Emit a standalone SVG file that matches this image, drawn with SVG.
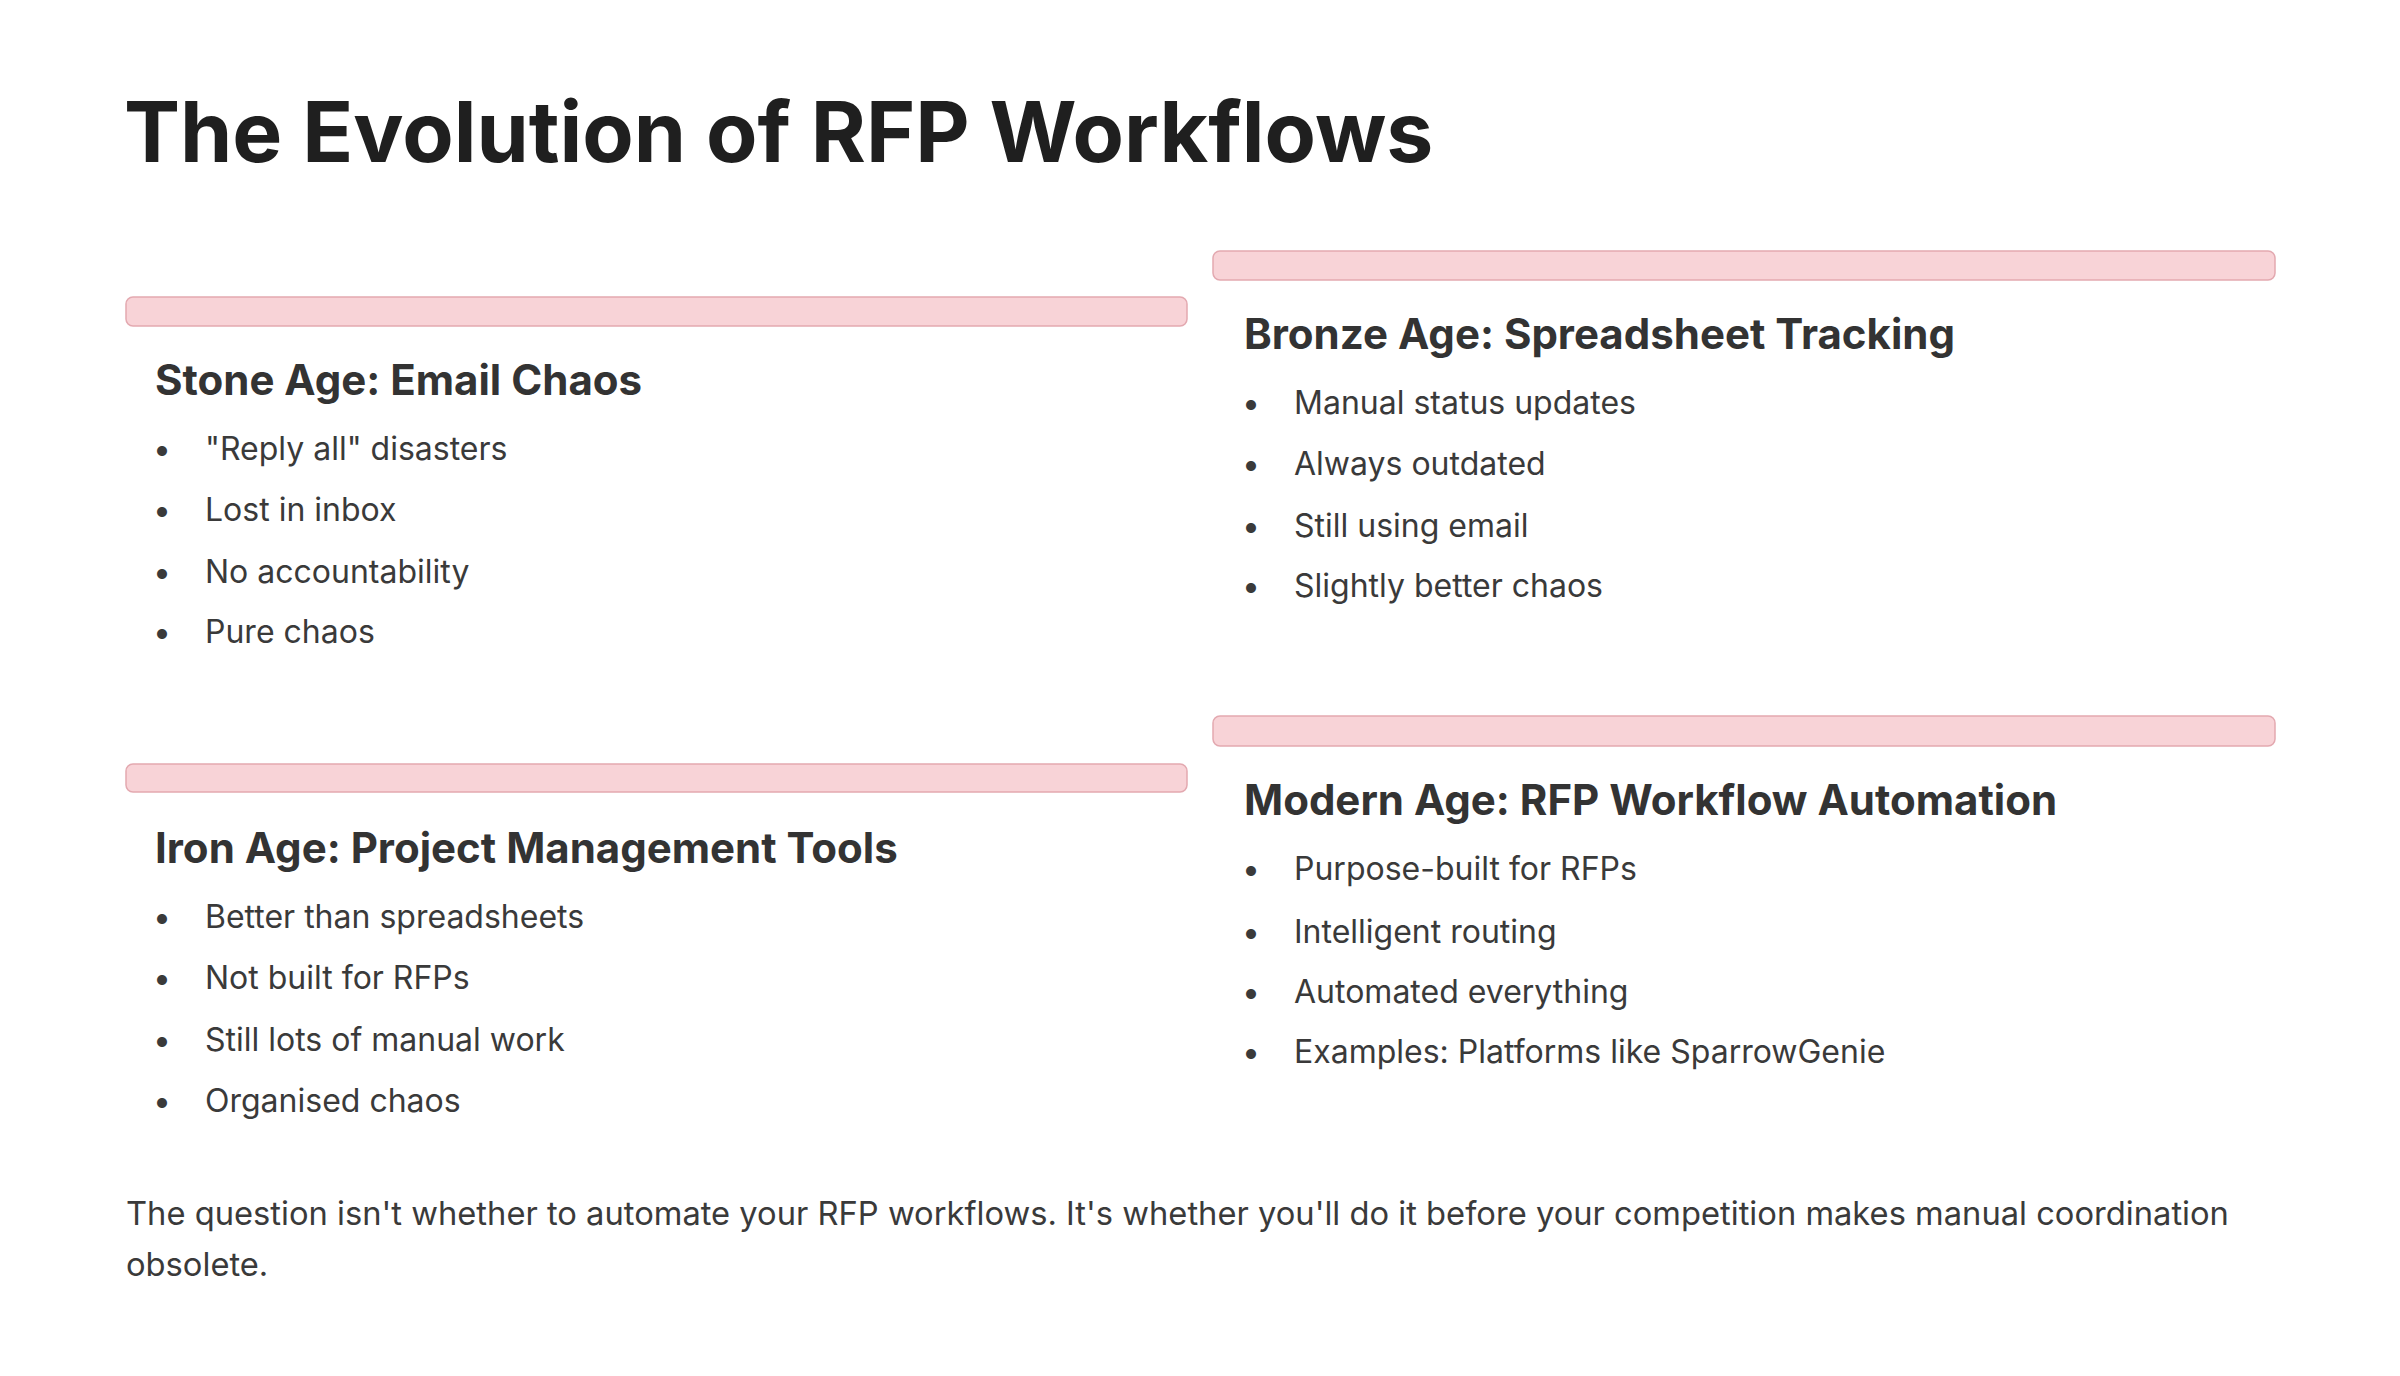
<svg xmlns="http://www.w3.org/2000/svg" width="2400" height="1376" viewBox="0 0 2400 1376">
<style>
.t{font-family:"Inter","Liberation Sans",sans-serif;font-weight:700;font-size:84px;fill:#1f1f1f}
.h{font-family:"Inter","Liberation Sans",sans-serif;font-weight:700;font-size:42px;fill:#333}
.b{font-family:"Inter","Liberation Sans",sans-serif;font-size:32px;fill:#3a3a3a}
.f{font-family:"Inter","Liberation Sans",sans-serif;font-size:32.7px;fill:#3a3a3a}
.bar{fill:#f8d3d7;stroke:#e3a9b0;stroke-width:1.5}
</style>
<rect width="2400" height="1376" fill="#fff"/>
<text class="t" x="124" y="162">The Evolution of RFP Workflows</text>
<g id="stone">
<rect class="bar" x="126" y="297" width="1061" height="29" rx="7"/>
<text class="h" x="155" y="395">Stone Age: Email Chaos</text>
<g class="b"><text x="153" y="460">•</text><text x="205" y="460">"Reply all" disasters</text>
<text x="153" y="521">•</text><text x="205" y="521">Lost in inbox</text>
<text x="153" y="583">•</text><text x="205" y="583">No accountability</text>
<text x="153" y="643">•</text><text x="205" y="643">Pure chaos</text></g>
</g>
<g id="bronze">
<rect class="bar" x="1213" y="251" width="1062" height="29" rx="7"/>
<text class="h" x="1244" y="349">Bronze Age: Spreadsheet Tracking</text>
<g class="b"><text x="1242" y="414">•</text><text x="1294" y="414">Manual status updates</text>
<text x="1242" y="475">•</text><text x="1294" y="475">Always outdated</text>
<text x="1242" y="537">•</text><text x="1294" y="537">Still using email</text>
<text x="1242" y="597">•</text><text x="1294" y="597">Slightly better chaos</text></g>
</g>
<g id="iron">
<rect class="bar" x="126" y="764" width="1061" height="28" rx="7"/>
<text class="h" x="155" y="863">Iron Age: Project Management Tools</text>
<g class="b"><text x="153" y="928">•</text><text x="205" y="928">Better than spreadsheets</text>
<text x="153" y="989">•</text><text x="205" y="989">Not built for RFPs</text>
<text x="153" y="1051">•</text><text x="205" y="1051">Still lots of manual work</text>
<text x="153" y="1112">•</text><text x="205" y="1112">Organised chaos</text></g>
</g>
<g id="modern">
<rect class="bar" x="1213" y="716" width="1062" height="30" rx="7"/>
<text class="h" x="1244" y="815">Modern Age: RFP Workflow Automation</text>
<g class="b"><text x="1242" y="880">•</text><text x="1294" y="880">Purpose-built for RFPs</text>
<text x="1242" y="943">•</text><text x="1294" y="943">Intelligent routing</text>
<text x="1242" y="1003">•</text><text x="1294" y="1003">Automated everything</text>
<text x="1242" y="1063">•</text><text x="1294" y="1063">Examples: Platforms like SparrowGenie</text></g>
</g>
<g id="connectors"/>
<text class="f" x="126" y="1225">The question isn't whether to automate your RFP workflows. It's whether you'll do it before your competition makes manual coordination</text>
<text class="f" x="126" y="1276">obsolete.</text>
</svg>
